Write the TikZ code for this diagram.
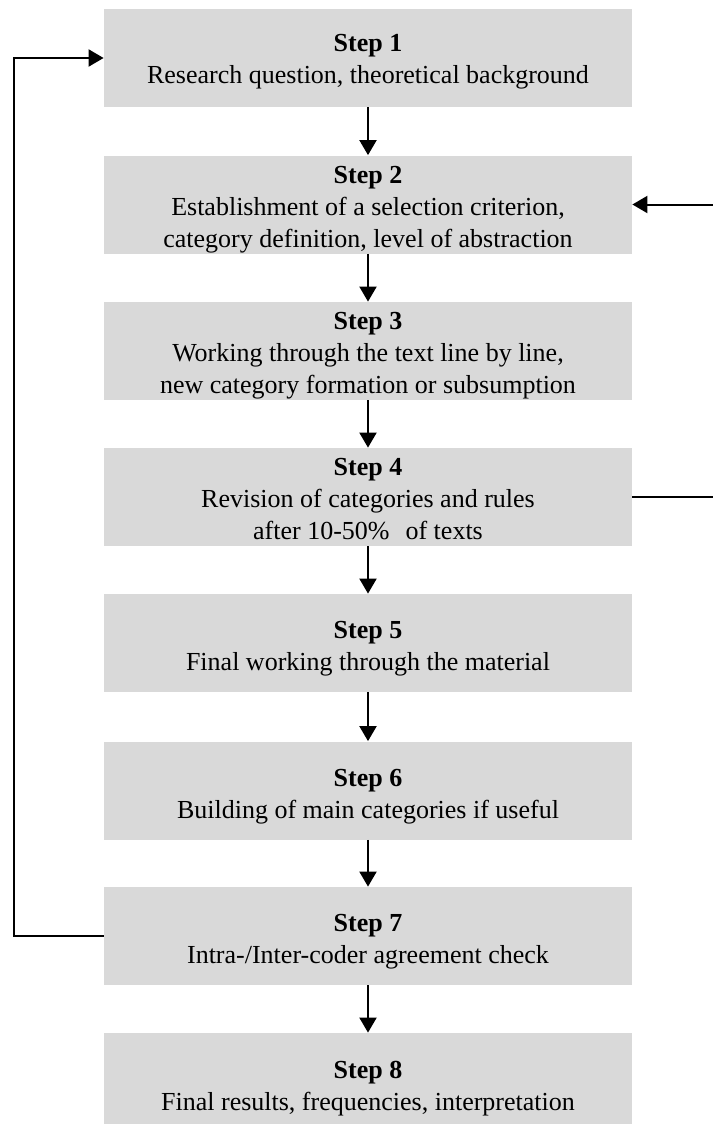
\documentclass[tikz,border=0pt]{standalone}
\usepackage{fontspec}
\setmainfont{Liberation Serif}
\usetikzlibrary{arrows.meta,calc}
\definecolor{boxgray}{HTML}{D9D9D9}
\tikzset{
  stepbox/.style={fill=boxgray, draw=none, minimum width=264pt, minimum height=49pt, inner sep=0pt},
  steptext/.style={anchor=base, inner sep=0pt, font=\fontsize{13}{16}\selectfont},
  flow/.style={line width=1pt, -{Triangle[length=7.5pt,width=8.5pt]}},
}
\newcommand{\steplines}[1]{\begin{tabular}[t]{@{}c@{}}#1\end{tabular}}
\begin{document}
\begin{tikzpicture}[x=0.5pt,y=-0.5pt]
\useasboundingbox (0,0) rectangle (712,1124);

% the eight step boxes
\node[stepbox] (s1) at (368,58) {};
\node[stepbox] (s2) at (368,204.5) {};
\node[stepbox] (s3) at (368,351) {};
\node[stepbox] (s4) at (368,497) {};
\node[stepbox] (s5) at (368,643) {};
\node[stepbox] (s6) at (368,790.5) {};
\node[stepbox] (s7) at (368,936) {};
\node[stepbox] (s8) at (368,1082) {};

% their texts
\node[steptext] (t1) at ($(s1.north)+(0,43)$) {\steplines{\textbf{Step 1}\\Research question, theoretical background}};
\node[steptext] (t2) at ($(s2.north)+(0,28)$) {\steplines{\textbf{Step 2}\\Establishment of a selection criterion,\\category definition, level of abstraction}};
\node[steptext] (t3) at ($(s3.north)+(0,28)$) {\steplines{\textbf{Step 3}\\Working through the text line by line,\\new category formation or subsumption}};
\node[steptext] (t4) at ($(s4.north)+(0,28)$) {\steplines{\textbf{Step 4}\\Revision of categories and rules\\after 10-50\%\hspace{8pt}of texts}};
\node[steptext] (t5) at ($(s5.north)+(0,45)$) {\steplines{\textbf{Step 5}\\Final working through the material}};
\node[steptext] (t6) at ($(s6.north)+(0,45)$) {\steplines{\textbf{Step 6}\\Building of main categories if useful}};
\node[steptext] (t7) at ($(s7.north)+(0,45)$) {\steplines{\textbf{Step 7}\\Intra-/Inter-coder agreement check}};
\node[steptext] (t8) at ($(s8.north)+(0,46)$) {\steplines{\textbf{Step 8}\\Final results, frequencies, interpretation}};

% main sequence
\draw[flow] (s1) -- (s2);
\draw[flow] (s2) -- (s3);
\draw[flow] (s3) -- (s4);
\draw[flow] (s4) -- (s5);
\draw[flow] (s5) -- (s6);
\draw[flow] (s6) -- (s7);
\draw[flow] (s7) -- (s8);

% feedback loops
\draw[flow] (s7.west) -- ++(-90,0) |- (s1.west);
\draw[flow] (s4.east) -- ++(90,0) |- (s2.east);
\end{tikzpicture}
\end{document}
